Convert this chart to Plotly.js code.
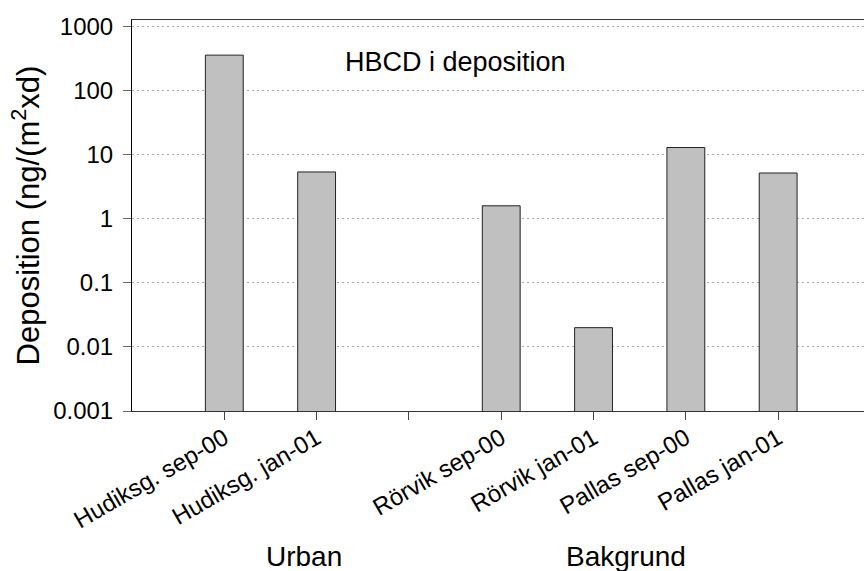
<!DOCTYPE html>
<html>
<head>
<meta charset="utf-8">
<script src="https://cdn.plot.ly/plotly-3.0.1.min.js"></script>
<style>
  html, body { margin: 0; padding: 0; background: #fff; }
  #chart { width: 864px; height: 571px; }
</style>
</head>
<body>
<div id="chart"></div>
<script>
// Sampling sites and periods; the blank entry separates urban from background sites
const sites = ["Hudiksg. sep-00", "Hudiksg. jan-01", " ", "Rörvik sep-00", "Rörvik jan-01", "Pallas sep-00", "Pallas jan-01"];
// HBCD deposition, ng/(m2 x day)
const deposition = [360, 5.4, null, 1.6, 0.02, 13, 5.2];
// Log-axis ticks
const yTickVals = [0.001, 0.01, 0.1, 1, 10, 100, 1000];
const yTickText = ["0.001", "0.01", "0.1", "1", "10", "100", "1000"];
// Site groups
const groupNames = ["Urban", "Bakgrund"];
const groupX = [0.235, 0.6755];

const FONT = "Liberation Sans, Arial, Helvetica, sans-serif";

const trace = {
  type: "bar",
  x: sites,
  y: deposition,
  width: 0.41,
  marker: { color: "#c0c0c0", line: { color: "#222", width: 1 } },
  hoverinfo: "x+y"
};

const annotations = groupNames.map((g, i) => ({
  text: g, xref: "paper", yref: "paper", x: groupX[i], y: -0.372,
  xanchor: "center", yanchor: "middle", showarrow: false,
  font: { family: FONT, size: 28, color: "#000" }
}));
annotations.push({
  text: "HBCD i deposition", xref: "paper", yref: "paper", x: 0.4426, y: 0.893,
  xanchor: "center", yanchor: "middle", showarrow: false,
  font: { family: FONT, size: 27, color: "#000" }
});

const layout = {
  width: 864, height: 571,
  margin: { l: 132, r: 0, t: 20, b: 160 },
  paper_bgcolor: "#fff", plot_bgcolor: "#fff",
  showlegend: false,
  font: { family: FONT, size: 24, color: "#000" },
  xaxis: {
    type: "category",
    categoryorder: "array", categoryarray: sites,
    range: [-1, 6.93],
    showline: true, linecolor: "#333", linewidth: 1, mirror: true,
    ticks: "outside", ticklen: 8, tickcolor: "#444", tickwidth: 1,
    tickangle: -30,
    ticklabelstandoff: -5,
    tickfont: { family: FONT, size: 24, color: "#000" },
    showgrid: false, zeroline: false
  },
  yaxis: {
    type: "log",
    range: [-3, 3.105],
    tickvals: yTickVals, ticktext: yTickText,
    showline: true, linecolor: "#000", linewidth: 1,
    ticks: "outside", ticklen: 8, tickcolor: "#666", tickwidth: 1,
    ticklabelstandoff: 5,
    tickfont: { family: FONT, size: 24, color: "#000" },
    showgrid: true, gridcolor: "#aaa", griddash: "2px,3px", gridwidth: 1,
    zeroline: false,
    title: { text: "Deposition (ng/(m<sup>2</sup>xd)", font: { family: FONT, size: 31, color: "#000" }, standoff: 4 }
  },
  annotations: annotations,
  bargap: 0.59
};

Plotly.newPlot("chart", [trace], layout, { displayModeBar: false, staticPlot: true });
</script>
</body>
</html>
